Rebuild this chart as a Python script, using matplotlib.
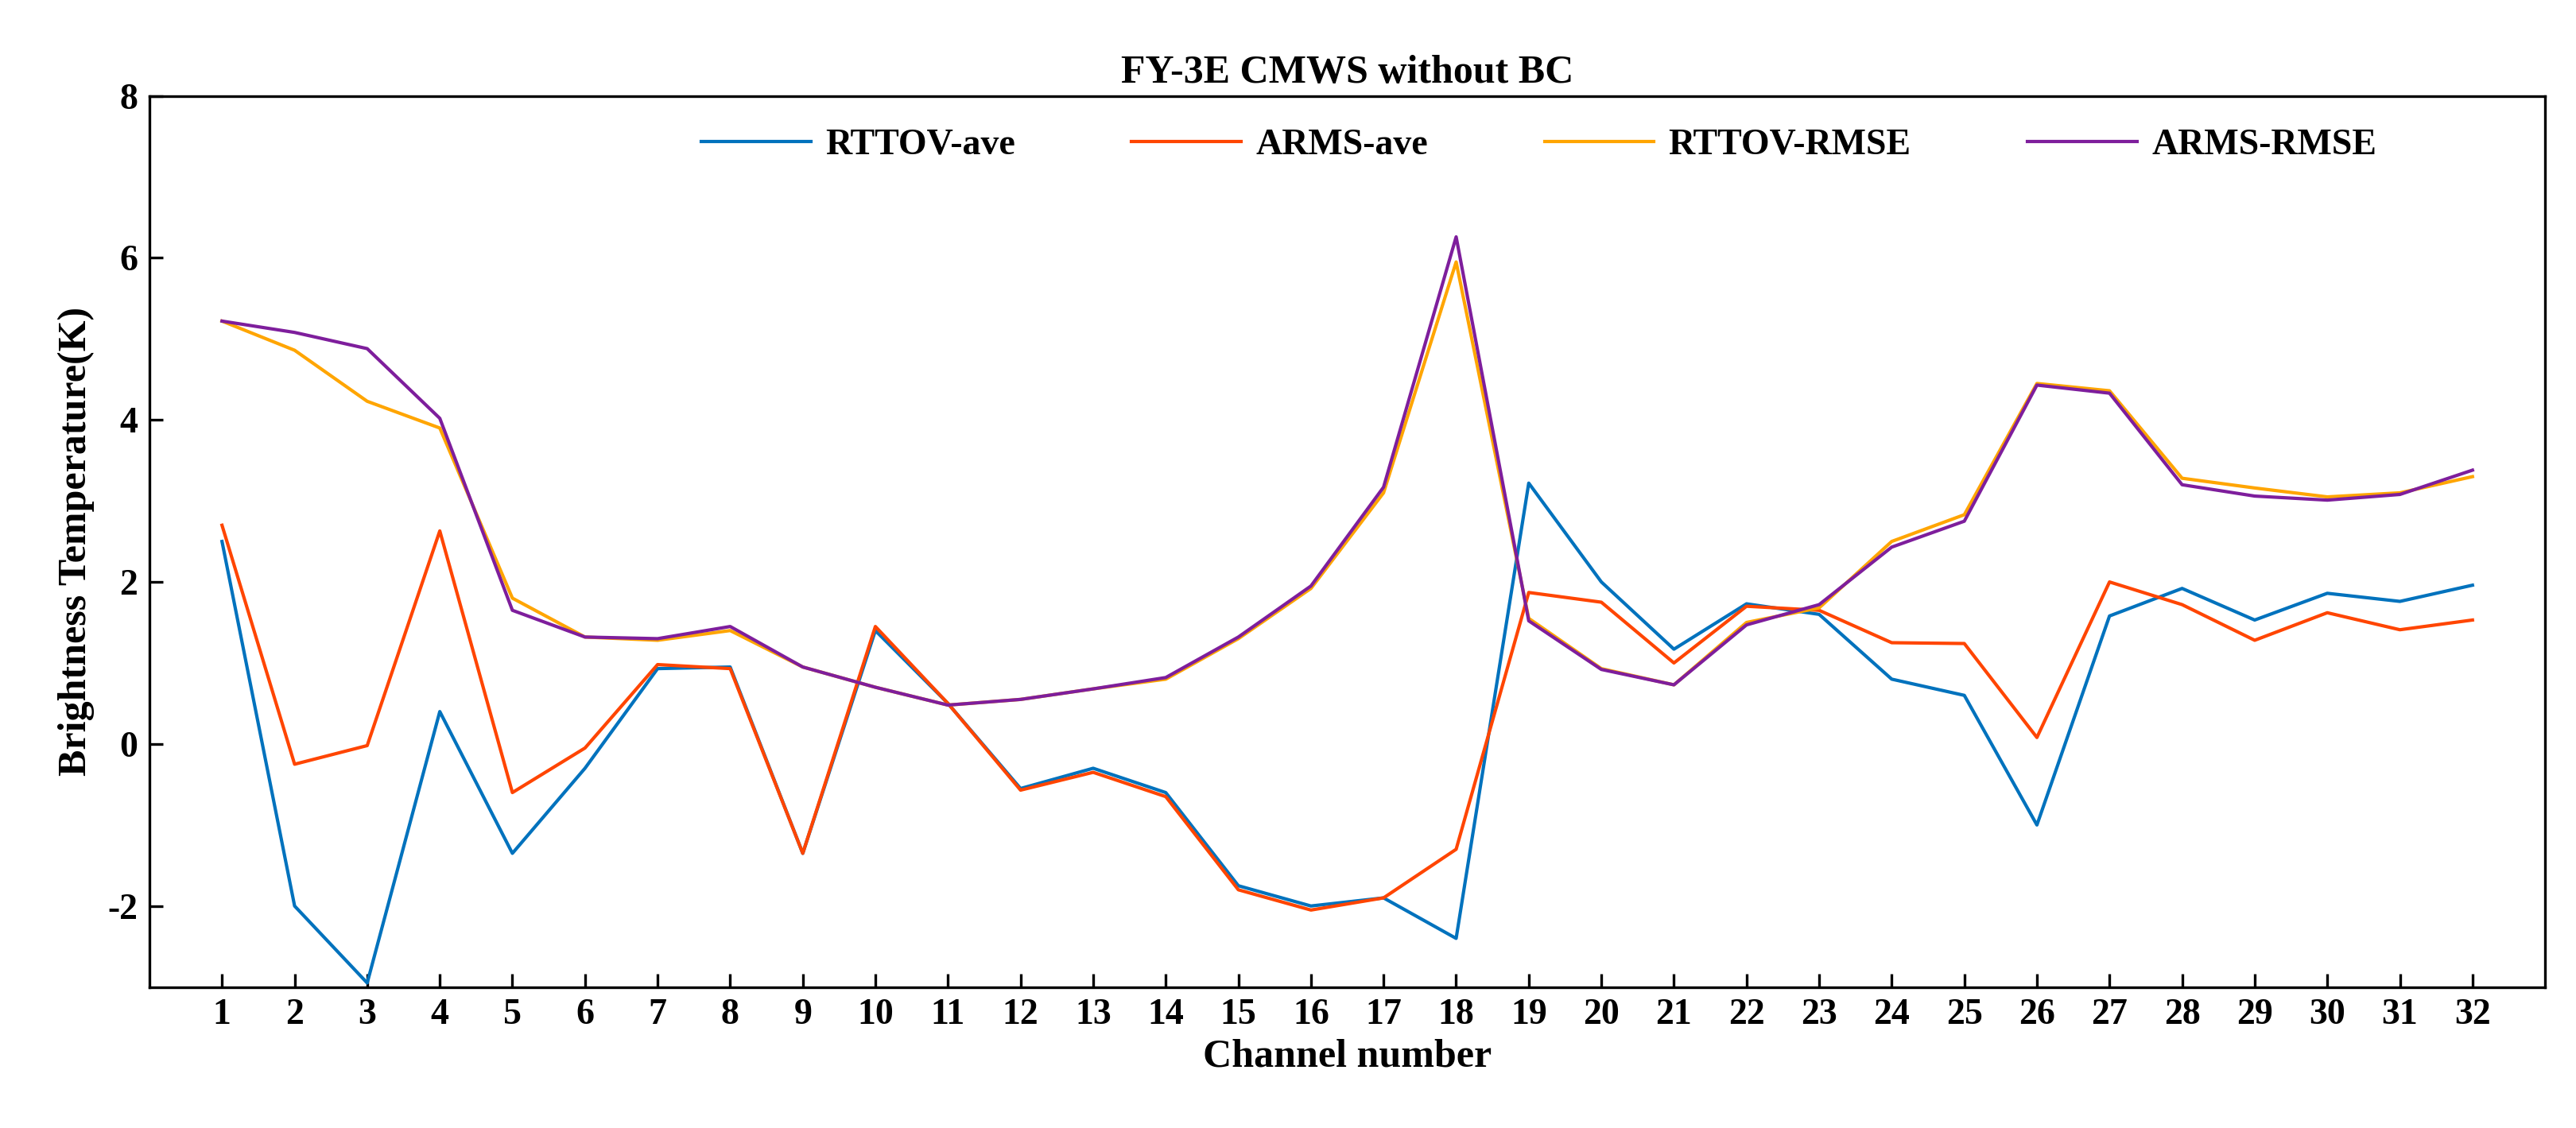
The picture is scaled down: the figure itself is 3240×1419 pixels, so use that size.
import numpy as np
import matplotlib
matplotlib.use("Agg")
from matplotlib import pyplot as plt

plt.rcParams["font.family"] = ["Liberation Serif", "DejaVu Serif"]
plt.rcParams["font.weight"] = "bold"
plt.rcParams["axes.unicode_minus"] = False

channels = list(range(1, 33))
rttov_ave = [2.5, -2.0, -2.95, 0.4, -1.35, -0.3, 0.93, 0.95, -1.35, 1.4, 0.5, -0.55, -0.3, -0.6, -1.75, -2.0,
             -1.9, -2.4, 3.22, 2.0, 1.17, 1.73, 1.6, 0.8, 0.6, -1.0, 1.58, 1.92, 1.53, 1.86, 1.76, 1.96]
arms_ave = [2.7, -0.25, -0.02, 2.63, -0.6, -0.05, 0.98, 0.93, -1.35, 1.45, 0.5, -0.57, -0.35, -0.65, -1.8, -2.05,
            -1.9, -1.3, 1.87, 1.75, 1.0, 1.7, 1.65, 1.25, 1.24, 0.08, 2.0, 1.72, 1.28, 1.62, 1.41, 1.53]
rttov_rmse = [5.22, 4.86, 4.23, 3.9, 1.8, 1.32, 1.28, 1.4, 0.95, 0.7, 0.48, 0.55, 0.68, 0.8, 1.3, 1.92,
              3.1, 5.95, 1.55, 0.93, 0.73, 1.5, 1.68, 2.5, 2.83, 4.45, 4.36, 3.28, 3.16, 3.05, 3.1, 3.3]
arms_rmse = [5.22, 5.08, 4.88, 4.02, 1.65, 1.32, 1.3, 1.45, 0.95, 0.7, 0.48, 0.55, 0.68, 0.82, 1.32, 1.95,
             3.17, 6.26, 1.52, 0.92, 0.73, 1.47, 1.72, 2.43, 2.75, 4.43, 4.33, 3.2, 3.06, 3.01, 3.08, 3.38]

fig = plt.figure(figsize=(10.8, 4.73), dpi=300)
ax = fig.add_axes([0.058, 0.125, 0.93, 0.79])

ax.plot(channels, rttov_ave, color="#0072BD", lw=1.0, label="RTTOV-ave")
ax.plot(channels, arms_ave, color="#FF4500", lw=1.0, label="ARMS-ave")
ax.plot(channels, rttov_rmse, color="#FFA500", lw=1.0, label="RTTOV-RMSE")
ax.plot(channels, arms_rmse, color="#7E1E9C", lw=1.0, label="ARMS-RMSE")

ax.set_xlim(0, 33)
ax.set_ylim(-3, 8)
ax.set_xticks(channels)
ax.set_yticks(np.arange(-2, 9, 2))
ax.tick_params(direction="in", labelsize=11, length=4)
ax.set_xlabel("Channel number", fontsize=12, fontweight="bold", labelpad=2)
ax.set_ylabel("Brightness Temperature(K)", fontsize=12, fontweight="bold")
ax.set_title("FY-3E CMWS without BC", fontsize=12, fontweight="bold", pad=4)
ax.legend(loc="upper center", bbox_to_anchor=(0.58, 1.0), ncol=4, frameon=False,
          fontsize=11, handlelength=3.0, handletextpad=0.4, columnspacing=3.2)

fig.savefig("out.png", dpi=300)
